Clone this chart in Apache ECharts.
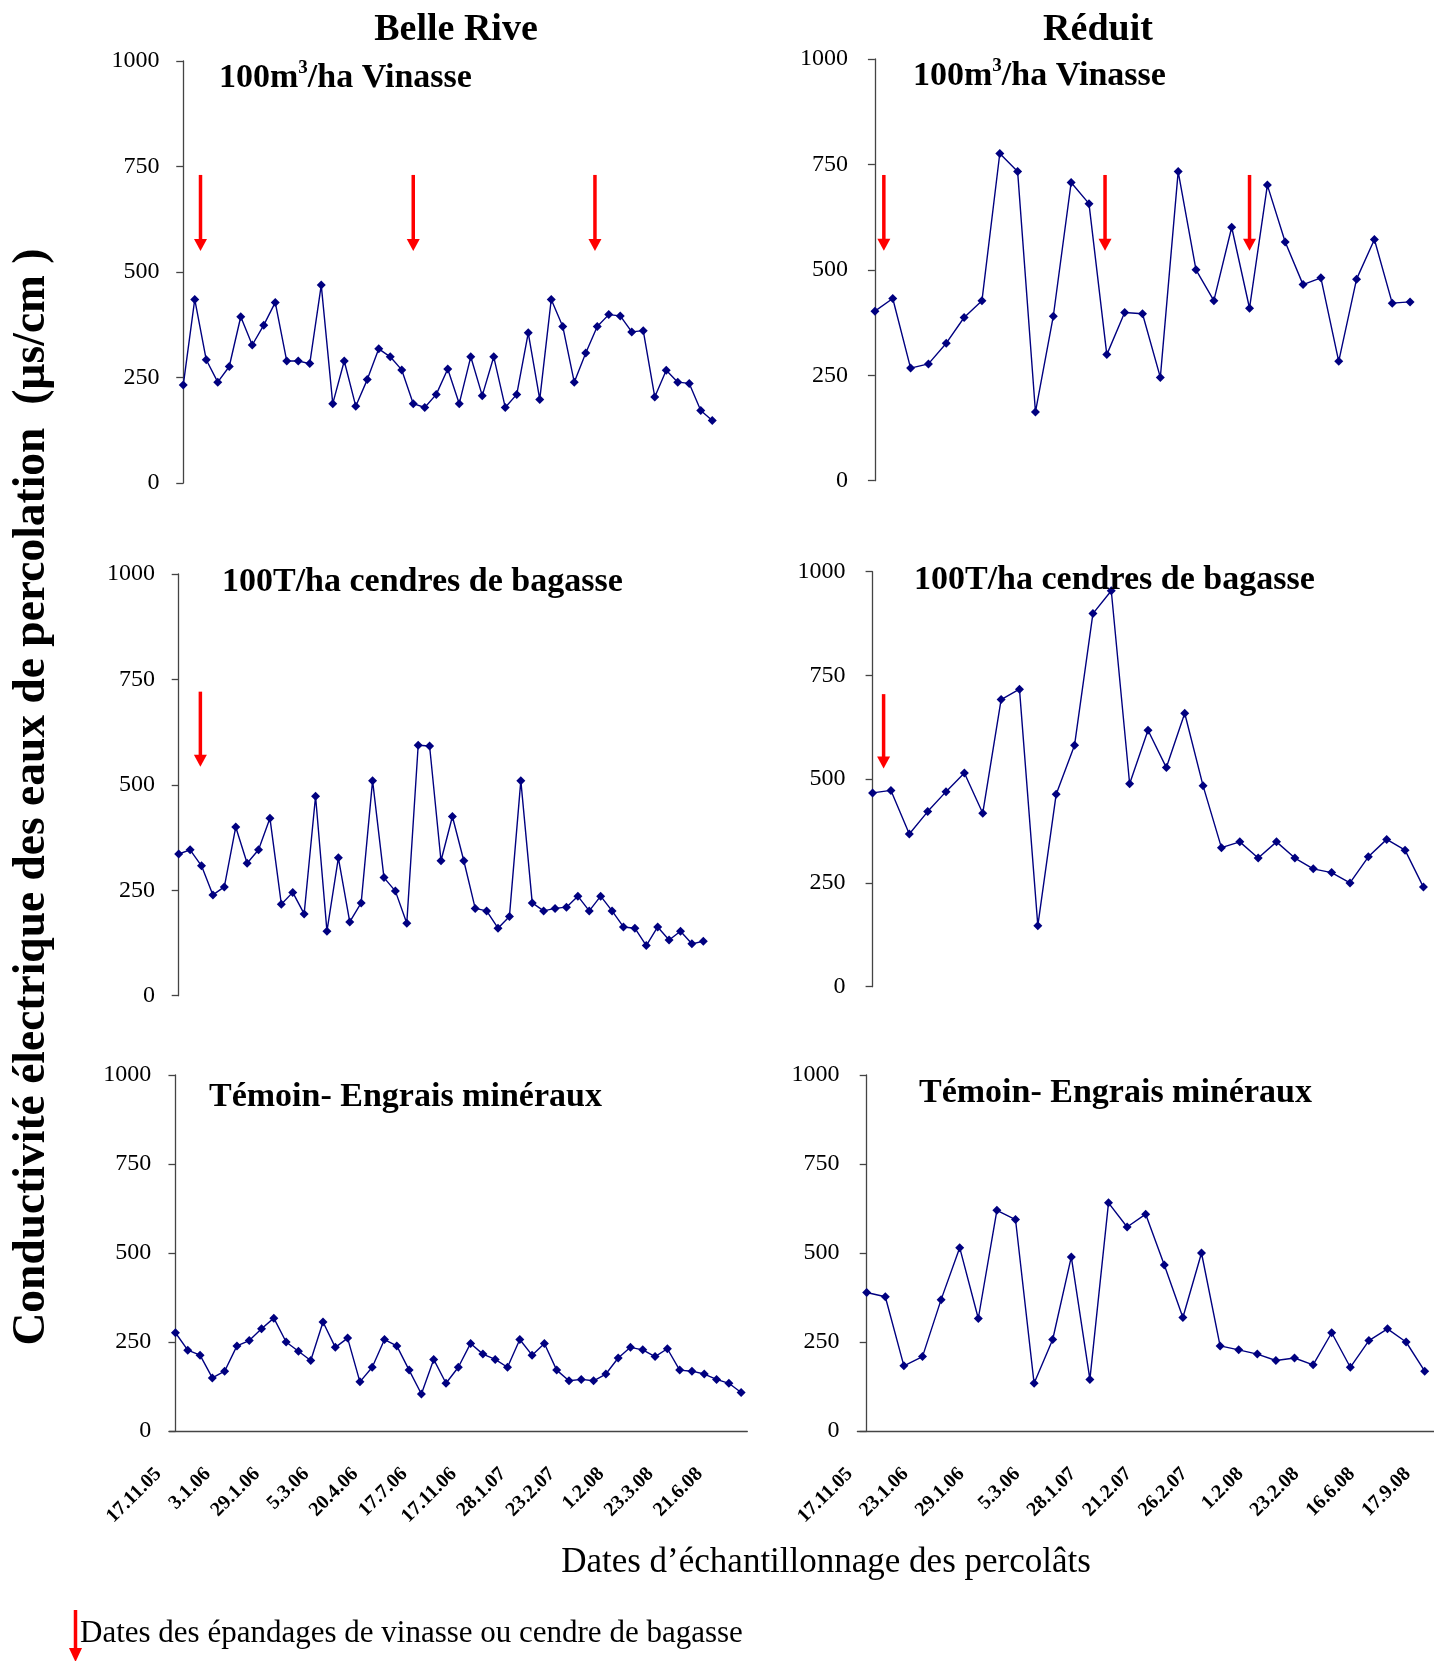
<!DOCTYPE html>
<html>
<head>
<meta charset="utf-8">
<script src="https://cdn.jsdelivr.net/npm/echarts@6/dist/echarts.min.js"></script>
<style>
html,body{margin:0;padding:0;background:#fff;}
#c{width:1434px;height:1661px;}
</style>
</head>
<body>
<div id="c"></div>
<script>
// ---- data ----
const belleDateLabels = ['17.11.05','3.1.06','29.1.06','5.3.06','20.4.06','17.7.06','17.11.06','28.1.07','23.2.07','1.2.08','23.3.08','21.6.08'];
const reduitDateLabels = ['17.11.05','23.1.06','29.1.06','5.3.06','28.1.07','21.2.07','26.2.07','1.2.08','23.2.08','16.6.08','17.9.08'];
const yTicks = [0, 250, 500, 750, 1000];

const belleVinasse = [232,435,292,239,276,394,327,374,428,289,289,283,469,188,289,182,245,318,299,268,188,179,210,270,188,299,207,299,179,210,356,198,435,371,239,308,371,399,396,358,361,204,267,239,236,172,148];
const reduitVinasse = [402,432,267,277,326,387,427,776,733,163,390,707,657,299,399,396,245,733,500,427,601,409,701,566,465,481,283,478,572,421,424];
const belleCendres = [336,346,308,239,258,400,314,346,421,217,245,194,473,153,327,175,220,510,280,248,172,594,592,320,425,320,207,201,160,188,510,220,201,207,210,236,201,236,201,163,160,119,163,132,153,123,129];
const reduitCendres = [467,473,368,422,470,515,418,692,717,147,464,582,899,954,489,618,528,659,484,335,349,310,349,310,284,275,250,313,355,329,240];
const belleTemoin = [276,227,213,149,168,239,254,287,317,250,224,198,306,235,261,138,179,257,239,171,104,201,134,179,246,216,201,179,257,213,246,171,141,145,141,160,205,235,228,209,231,171,168,160,145,134,108];
const reduitTemoin = [389,377,183,209,369,515,316,620,594,134,257,489,145,641,573,609,466,319,500,239,228,216,198,205,186,276,179,254,287,250,168];

// application dates (red arrows): [category position, arrow top value, arrow tip value]
const arrowsBelleVinasse = [[1.5,730,550],[20,730,550],[35.8,730,550]];
const arrowsReduitVinasse = [[0.5,725,545],[12.9,725,545],[21,725,545]];
const arrowsBelleCendres = [[1.9,721,543]];
const arrowsReduitCendres = [[0.6,705,526]];
const arrowsNone = [];

const panelTitles = ['100m³/ha Vinasse','100m³/ha Vinasse','100T/ha cendres de bagasse','100T/ha cendres de bagasse','Témoin- Engrais minéraux','Témoin- Engrais minéraux'];

// ---- build ----
const FONT = 'Liberation Serif';
function buildCats(n, labels, step){
  const out = [];
  for (let i = 0; i < n; i++) out.push(i % step === 0 ? (labels[i/step] || '') : '');
  return out;
}
const belleCats = buildCats(belleVinasse.length, belleDateLabels, 4);
const reduitCats = buildCats(reduitVinasse.length, reduitDateLabels, 3);

const panels = [
  {grid:{left:177.5, top:61, width:540.5, height:422}, cats:belleCats, data:belleVinasse, arrows:arrowsBelleVinasse, xlab:false, step:4},
  {grid:{left:866, top:59, width:553, height:421.7}, cats:reduitCats, data:reduitVinasse, arrows:arrowsReduitVinasse, xlab:false, step:3},
  {grid:{left:173, top:574, width:536, height:421.7}, cats:belleCats, data:belleCendres, arrows:arrowsBelleCendres, xlab:false, step:4},
  {grid:{left:863.4, top:571.7, width:569.2, height:415}, cats:reduitCats, data:reduitCendres, arrows:arrowsReduitCendres, xlab:false, step:3},
  {grid:{left:169.3, top:1075, width:578, height:356}, cats:belleCats, data:belleTemoin, arrows:arrowsNone, xlab:true, step:4},
  {grid:{left:857.4, top:1075, width:582.6, height:356}, cats:reduitCats, data:reduitTemoin, arrows:arrowsNone, xlab:true, step:3}
];

const grid = [], xAxis = [], yAxis = [], series = [];
panels.forEach((p, g) => {
  grid.push(Object.assign({containLabel:false}, p.grid));
  xAxis.push({
    type:'category', gridIndex:g, data:p.cats, boundaryGap:true,
    show:true,
    axisLine:{show:p.xlab, lineStyle:{color:'#444', width:1.3}},
    axisTick:{show:false},
    axisLabel:{show:p.xlab, interval:p.step-1, rotate:45, margin:23, padding:[0,24,0,0],
      fontFamily:FONT, fontWeight:'bold', fontSize:20, color:'#000'},
    splitLine:{show:false}
  });
  xAxis.push({
    type:'value', gridIndex:g, min:-0.5, max:p.data.length-0.5, show:false
  });
  yAxis.push({
    type:'value', gridIndex:g, min:yTicks[0], max:yTicks[yTicks.length-1], interval:250,
    axisLine:{show:true, lineStyle:{color:'#444', width:1.3}},
    axisTick:{show:true, inside:false, length:7, lineStyle:{color:'#444', width:1.3}},
    axisLabel:{margin:18, fontFamily:FONT, fontSize:24, color:'#000', formatter:function(v){return String(v);}},
    splitLine:{show:false}
  });
  series.push({
    type:'line', xAxisIndex:2*g, yAxisIndex:g, data:p.data,
    symbol:'diamond', symbolSize:9, showSymbol:true, showAllSymbol:true,
    lineStyle:{color:'#000080', width:1.4},
    itemStyle:{color:'#000080'},
    animation:false, z:3
  });
  series.push({
    type:'custom', xAxisIndex:2*g+1, yAxisIndex:g, data:p.arrows,
    encode:{x:0, y:[1,2]},
    renderItem:function(params, api){
      const x = api.value(0);
      const pTop = api.coord([x, api.value(1)]);
      const pTip = api.coord([x, api.value(2)]);
      const hh = 12, hw = 6.5;
      return {type:'group', children:[
        {type:'line', shape:{x1:pTop[0], y1:pTop[1], x2:pTip[0], y2:pTip[1]-hh+1},
          style:{stroke:'#ff0000', lineWidth:3.5}},
        {type:'polygon', shape:{points:[[pTip[0]-hw, pTip[1]-hh],[pTip[0]+hw, pTip[1]-hh],[pTip[0], pTip[1]]]},
          style:{fill:'#ff0000'}}
      ]};
    },
    animation:false, z:4
  });
});

const subPos = [[219,77],[913,75],[222,581],[914,579],[209,1096],[919,1092]];
const graphic = [];
function richTitle(t){
  if (t.indexOf('³') >= 0){
    const parts = t.split('³');
    return '{a|' + parts[0] + '}{s|3}{a|' + parts[1] + '}';
  }
  return '{a|' + t + '}';
}
panelTitles.forEach((t, i) => {
  graphic.push({type:'text', x:subPos[i][0], y:subPos[i][1], z:10,
    style:{text:richTitle(t), align:'left', verticalAlign:'middle',
      rich:{
        a:{fontFamily:FONT, fontSize:34, fontWeight:'bold', fill:'#000', lineHeight:37, verticalAlign:'bottom'},
        s:{fontFamily:FONT, fontSize:19, fontWeight:'bold', fill:'#000', lineHeight:37, verticalAlign:'top'}
      }}});
});
graphic.push({type:'text', x:456, y:30, style:{text:'Belle Rive', font:'bold 38px "' + FONT + '"', fill:'#000', align:'center', verticalAlign:'middle'}});
graphic.push({type:'text', x:1098, y:30, style:{text:'Réduit', font:'bold 38px "' + FONT + '"', fill:'#000', align:'center', verticalAlign:'middle'}});
graphic.push({type:'text', x:32, y:797, rotation:Math.PI/2,
  style:{text:'Conductivité électrique des eaux de percolation  (µs/cm )', font:'bold 45.5px "' + FONT + '"', fill:'#000', align:'center', verticalAlign:'middle'}});
graphic.push({type:'text', x:826, y:1563,
  style:{text:'Dates d’échantillonnage des percolâts', font:'35px "' + FONT + '"', fill:'#000', align:'center', verticalAlign:'middle'}});
graphic.push({type:'text', x:80, y:1634,
  style:{text:'Dates des épandages de vinasse ou cendre de bagasse', font:'31px "' + FONT + '"', fill:'#000', align:'left', verticalAlign:'middle'}});
// legend arrow glyph
graphic.push({type:'line', shape:{x1:75.5, y1:1610, x2:75.5, y2:1650}, style:{stroke:'#ff0000', lineWidth:3.5}});
graphic.push({type:'polygon', shape:{points:[[69,1648],[82,1648],[75.5,1662]]}, style:{fill:'#ff0000'}});

const chart = echarts.init(document.getElementById('c'), null, {renderer:'canvas'});
chart.setOption({
  animation:false,
  backgroundColor:'#ffffff',
  grid, xAxis, yAxis, series, graphic
});
</script>
</body>
</html>
